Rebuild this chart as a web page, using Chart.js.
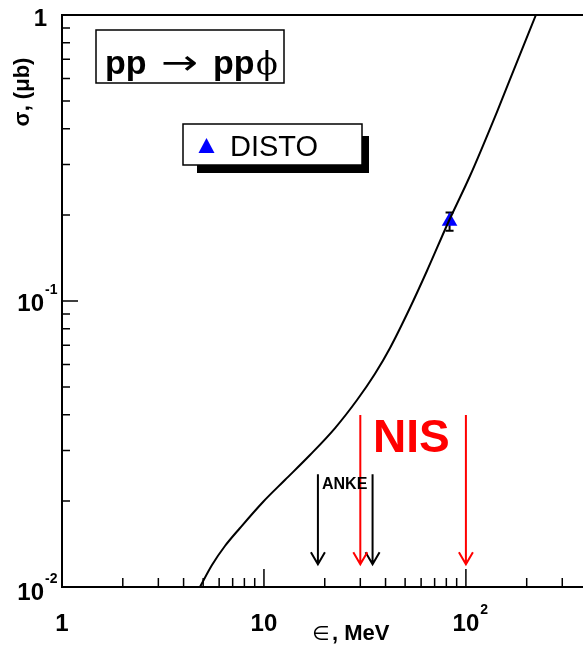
<!DOCTYPE html>
<html>
<head>
<meta charset="utf-8">
<script src="https://cdn.jsdelivr.net/npm/chart.js@4.4.0/dist/chart.umd.min.js"></script>
<style>
  html, body { margin: 0; padding: 0; background: #ffffff; }
  #wrap { width: 583px; height: 645px; }
</style>
</head>
<body>
<div id="wrap"><canvas id="c" width="583" height="645"></canvas></div>
<script>
// Calculated pp -> pp phi cross section versus excess energy
const curveEnergy = [4.82, 5.53, 6.41, 7.61, 9.89, 12.7, 16.9, 22.5, 28.9, 35.4, 42.1, 52.8, 64.1, 81.5, 104.7, 142.4, 178.9, 222.1];
const curveSigma  = [0.0100, 0.01194, 0.01391, 0.01608, 0.01983, 0.02366, 0.02894, 0.03596, 0.04506, 0.05555, 0.0685, 0.0945, 0.1273, 0.1874, 0.2735, 0.4579, 0.6848, 1.0];

// DISTO measurement
const distoEnergy = [83];
const distoSigma  = [0.19];
const distoError  = [0.014];

// Energies marked by arrows
const ankeEnergy = [18.5, 34.5];
const nisEnergy  = [30, 100];
const arrowTipSigma = 0.012;
const ankeTopSigma  = 0.0248;
const nisTopSigma   = 0.0399;

// Axes
const xRange = [1, 380];
const yRange = [0.01, 1];
const xMajorTicks = [1, 10, 100];
const xTickLabels = [['1', ''], ['10', ''], ['10', '2']];
const yMajorTicks = [1, 0.1, 0.01];
const yTickLabels = [['1', ''], ['10', '-1'], ['10', '-2']];
const xMinorTicks = [2, 3, 4, 5, 6, 7, 8, 9, 20, 30, 40, 50, 60, 70, 80, 90, 200, 300];
const yMinorTicks = [0.02, 0.03, 0.04, 0.05, 0.06, 0.07, 0.08, 0.09, 0.2, 0.3, 0.4, 0.5, 0.6, 0.7, 0.8, 0.9];

const SANS = '"Liberation Sans", Arial, Helvetica, sans-serif';

function arrow(ctx, x, yTop, yTip, color) {
  ctx.save();
  ctx.strokeStyle = color;
  ctx.lineWidth = 2;
  ctx.beginPath();
  ctx.moveTo(x, yTop);
  ctx.lineTo(x, yTip);
  ctx.moveTo(x - 7, yTip - 12);
  ctx.lineTo(x, yTip);
  ctx.lineTo(x + 7, yTip - 12);
  ctx.stroke();
  ctx.restore();
}

const decorations = {
  id: 'decorations',
  beforeDatasetsDraw(chart) {
    const ctx = chart.ctx;
    const xs = chart.scales.x, ys = chart.scales.y;
    // error bar of the DISTO point
    ctx.save();
    ctx.strokeStyle = '#000';
    ctx.lineWidth = 2;
    distoEnergy.forEach((e, i) => {
      const px = xs.getPixelForValue(e);
      const yHi = ys.getPixelForValue(distoSigma[i] + distoError[i]);
      const yLo = ys.getPixelForValue(distoSigma[i] - distoError[i]);
      ctx.beginPath();
      ctx.moveTo(px, yHi); ctx.lineTo(px, yLo);
      ctx.moveTo(px - 4, yHi); ctx.lineTo(px + 4, yHi);
      ctx.moveTo(px - 4, yLo); ctx.lineTo(px + 4, yLo);
      ctx.stroke();
    });
    ctx.restore();
  },
  afterDatasetsDraw(chart) {
    const ctx = chart.ctx;
    const xs = chart.scales.x, ys = chart.scales.y;
    const area = chart.chartArea;

    // arrows
    const tip = ys.getPixelForValue(arrowTipSigma);
    ankeEnergy.forEach(e => arrow(ctx, xs.getPixelForValue(e), ys.getPixelForValue(ankeTopSigma), tip, '#000000'));
    nisEnergy.forEach(e => arrow(ctx, xs.getPixelForValue(e), ys.getPixelForValue(nisTopSigma), tip, '#ff0000'));

    ctx.save();
    ctx.textBaseline = 'alphabetic';
    ctx.fillStyle = '#000';
    ctx.font = 'bold 16px ' + SANS;
    ctx.textAlign = 'left';
    ctx.fillText('ANKE', 322, 489);
    ctx.fillStyle = '#ff0000';
    ctx.font = 'bold 46px ' + SANS;
    ctx.fillText('NIS', 373, 452);
    ctx.restore();

    // frame: left, bottom, top
    ctx.save();
    ctx.strokeStyle = '#000';
    ctx.lineWidth = 2;
    ctx.beginPath();
    ctx.moveTo(area.right, area.top);
    ctx.lineTo(area.left, area.top);
    ctx.lineTo(area.left, area.bottom);
    ctx.lineTo(area.right, area.bottom);
    ctx.stroke();

    // ticks
    ctx.lineWidth = 1.5;
    ctx.beginPath();
    xMinorTicks.forEach(v => { const p = xs.getPixelForValue(v); ctx.moveTo(p, area.bottom); ctx.lineTo(p, area.bottom - 9); });
    xMajorTicks.forEach(v => { const p = xs.getPixelForValue(v); ctx.moveTo(p, area.bottom); ctx.lineTo(p, area.bottom - 18); });
    yMinorTicks.forEach(v => { const p = ys.getPixelForValue(v); ctx.moveTo(area.left, p); ctx.lineTo(area.left + 8, p); });
    yMajorTicks.forEach(v => { const p = ys.getPixelForValue(v); ctx.moveTo(area.left, p); ctx.lineTo(area.left + 16, p); });
    ctx.stroke();

    // tick labels
    const base = 'bold 24px ' + SANS;
    const sup = 'bold 14px ' + SANS;
    ctx.fillStyle = '#000';
    xMajorTicks.forEach((v, i) => {
      const p = xs.getPixelForValue(v);
      const [b, s] = xTickLabels[i];
      ctx.font = base;
      const w = ctx.measureText(b).width;
      ctx.textAlign = 'left';
      ctx.fillText(b, p - w / 2, 631);
      if (s) { ctx.font = sup; ctx.fillText(s, p + w / 2 + 1, 614); }
    });
    yMajorTicks.forEach((v, i) => {
      const p = ys.getPixelForValue(v);
      const [b, s] = yTickLabels[i];
      ctx.font = base;
      let yb = p + 10;
      if (i === 0) yb = p + 11;
      if (i === 2) yb = p + 13;
      if (!s) {
        ctx.textAlign = 'right';
        ctx.fillText(b, 47, yb);
      } else {
        ctx.textAlign = 'right';
        ctx.fillText(b, 44, yb);
        ctx.font = sup;
        ctx.textAlign = 'left';
        ctx.fillText(s, 45, yb - 17);
      }
    });

    // axis titles
    ctx.textAlign = 'left';
    ctx.font = '20px "DejaVu Sans", sans-serif';
    ctx.fillText('\u2208', 312, 640);
    ctx.font = 'bold 22px ' + SANS;
    ctx.fillText(', MeV', 332, 640);

    ctx.save();
    ctx.translate(29, 92);
    ctx.rotate(-Math.PI / 2);
    ctx.textAlign = 'center';
    ctx.font = 'bold 22px ' + SANS;
    ctx.fillText('\u03c3, (\u03bcb)', 0, 0);
    ctx.restore();

    // reaction label box
    ctx.lineWidth = 1.5;
    ctx.fillStyle = '#fff';
    ctx.fillRect(96, 30, 188, 53);
    ctx.strokeRect(96, 30, 188, 53);
    ctx.fillStyle = '#000';
    ctx.textAlign = 'left';
    ctx.font = 'bold 34px ' + SANS;
    ctx.fillText('pp', 105, 74);
    ctx.save();
    ctx.translate(161, 74);
    ctx.scale(1.3, 1);
    ctx.font = '34px "DejaVu Sans", sans-serif';
    ctx.fillText('\u2192', 0, 0);
    ctx.restore();
    ctx.font = 'bold 34px ' + SANS;
    ctx.fillText('pp', 213, 74);
    ctx.font = '32px "DejaVu Serif", serif';
    ctx.fillText('\u03d5', 256, 74);

    // legend box with shadow
    ctx.fillStyle = '#000';
    ctx.fillRect(197, 136, 172, 37);
    ctx.fillStyle = '#fff';
    ctx.fillRect(183, 124, 179, 41);
    ctx.strokeRect(183, 124, 179, 41);
    ctx.fillStyle = '#0000ff';
    ctx.beginPath();
    ctx.moveTo(206.5, 138);
    ctx.lineTo(214.5, 153);
    ctx.lineTo(198.5, 153);
    ctx.closePath();
    ctx.fill();
    ctx.fillStyle = '#000';
    ctx.font = '29px ' + SANS;
    ctx.fillText('DISTO', 230, 156);
    ctx.restore();
  }
};

new Chart(document.getElementById('c'), {
  type: 'scatter',
  data: {
    datasets: [
      {
        type: 'line',
        data: curveEnergy.map((e, i) => ({ x: e, y: curveSigma[i] })),
        borderColor: '#000000',
        borderWidth: 2,
        pointRadius: 0,
        cubicInterpolationMode: 'monotone',
        fill: false
      },
      {
        type: 'scatter',
        data: distoEnergy.map((e, i) => ({ x: e, y: distoSigma[i] })),
        pointStyle: 'triangle',
        radius: 9,
        backgroundColor: '#0000ff',
        borderColor: '#0000ff',
        borderWidth: 0
      }
    ]
  },
  options: {
    responsive: false,
    animation: false,
    events: [],
    layout: { autoPadding: false, padding: { left: 62, top: 15, right: 0, bottom: 58 } },
    scales: {
      x: { type: 'logarithmic', min: xRange[0], max: xRange[1], display: false },
      y: { type: 'logarithmic', min: yRange[0], max: yRange[1], display: false }
    },
    plugins: { legend: { display: false }, tooltip: { enabled: false } }
  },
  plugins: [decorations]
});
</script>
</body>
</html>
